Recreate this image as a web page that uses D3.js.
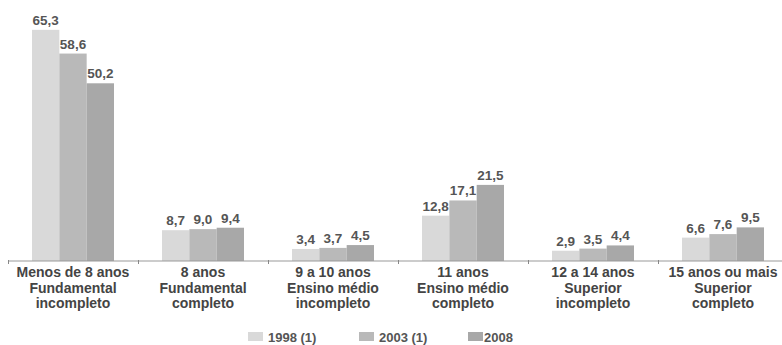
<!DOCTYPE html>
<html>
<head>
<meta charset="utf-8">
<script src="https://cdn.jsdelivr.net/npm/d3@7"></script>
<style>
  body { margin: 0; background: #fff; }
  text { font-family: "Liberation Sans", Arial, sans-serif; }
</style>
</head>
<body>
<div id="chart"></div>
<script>
var categories = [
    ["Menos de 8 anos", "Fundamental", "incompleto"],
    ["8 anos", "Fundamental", "completo"],
    ["9 a 10 anos", "Ensino médio", "incompleto"],
    ["11 anos", "Ensino médio", "completo"],
    ["12 a 14 anos", "Superior", "incompleto"],
    ["15 anos ou mais", "Superior", "completo"]
];
var seriesNames = ["1998 (1)", "2003 (1)", "2008"];
var v1998 = [65.3, 8.7, 3.4, 12.8, 2.9, 6.6];
var v2003 = [58.6, 9.0, 3.7, 17.1, 3.5, 7.6];
var v2008 = [50.2, 9.4, 4.5, 21.5, 4.4, 9.5];
var colors = ["#d9d9d9", "#b9b9b9", "#a8a8a8"];

var width = 782, height = 345;
var baseY = 261;

var svg = d3.select("#chart").append("svg")
    .attr("width", width)
    .attr("height", height);

var x = d3.scaleBand()
    .domain(d3.range(categories.length))
    .range([8, 788])
    .padding(0);

var xInner = d3.scaleBand()
    .domain(d3.range(seriesNames.length))
    .range([24, 106])
    .padding(0);

var y = d3.scaleLinear()
    .domain([0, 70])
    .range([baseY, baseY - 70 * 3.54]);

var allSeries = [v1998, v2003, v2008];

var fmt = function(v){ return d3.format(".1f")(v).replace(".", ","); };

var groups = svg.selectAll("g.group")
    .data(categories)
    .enter().append("g")
    .attr("class", "group")
    .attr("transform", function(d, i){ return "translate(" + x(i) + ",0)"; });

groups.each(function(d, ci){
    var g = d3.select(this);
    for (var s = 0; s < allSeries.length; s++) {
        var v = allSeries[s][ci];
        g.append("rect")
            .attr("x", xInner(s))
            .attr("y", y(v))
            .attr("width", xInner.bandwidth())
            .attr("height", baseY - y(v))
            .attr("fill", colors[s]);
        g.append("text")
            .attr("x", xInner(s) + xInner.bandwidth() / 2)
            .attr("y", y(v) - 5)
            .attr("text-anchor", "middle")
            .style("font-size", "13.5px")
            .style("font-weight", "bold")
            .style("fill", "#555")
            .text(fmt(v));
    }
});

// axis line with small ticks
var xAxis = d3.axisBottom(d3.scaleLinear().domain([0, 6]).range([8, 788]))
    .ticks(6)
    .tickSize(3)
    .tickFormat("");
svg.append("g")
    .attr("transform", "translate(0," + baseY + ")")
    .call(xAxis)
    .call(function(g){
        g.select(".domain").attr("stroke", "#999").attr("d", "M8,0H782");
        g.selectAll(".tick line").attr("stroke", "#888").attr("y1", -1).attr("y2", 3);
    });

// category labels
groups.each(function(d, ci){
    var t = d3.select(this).append("text")
        .attr("text-anchor", "middle")
        .style("font-size", "14px")
        .style("font-weight", "bold")
        .style("fill", "#444");
    d.forEach(function(line, li){
        t.append("tspan")
            .attr("x", x.bandwidth() / 2)
            .attr("y", 277 + li * 15.5)
            .text(line);
    });
});

// legend
var legendX = [248, 359, 468];
var legend = svg.selectAll("g.legend")
    .data(seriesNames)
    .enter().append("g")
    .attr("class", "legend")
    .attr("transform", function(d, i){ return "translate(" + legendX[i] + ",332)"; });
legend.append("rect")
    .attr("width", 15)
    .attr("height", 9)
    .attr("fill", function(d, i){ return colors[i]; });
legend.append("text")
    .attr("x", function(d, i){ return i === 2 ? 16 : 20; })
    .attr("y", 9.5)
    .style("font-size", "13px")
    .style("font-weight", "bold")
    .style("fill", "#555")
    .text(function(d){ return d; });
</script>
</body>
</html>
